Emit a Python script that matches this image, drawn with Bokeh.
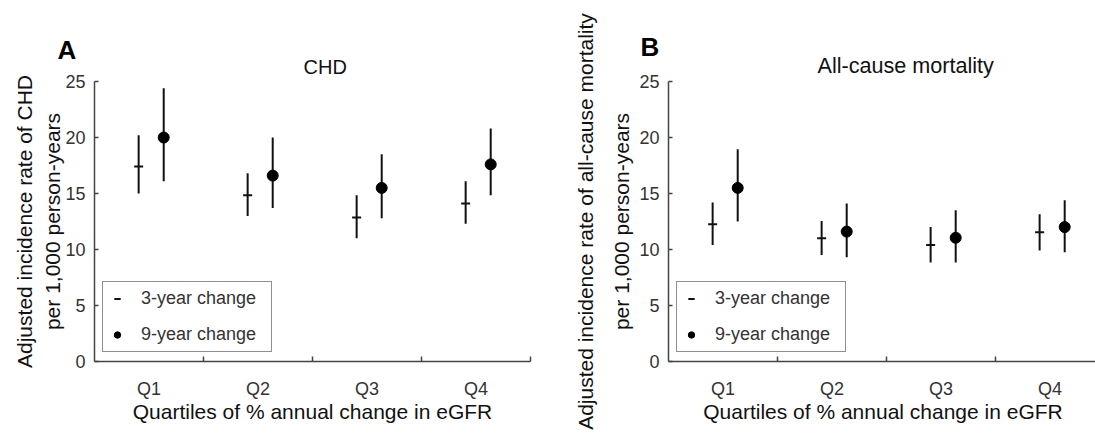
from bokeh.plotting import figure
from bokeh.models import Range1d, FixedTicker, Legend, LegendItem, Title
from bokeh.layouts import row
from bokeh.embed import file_html
from bokeh.resources import INLINE

# ---------------- data ----------------
quartiles = ["Q1", "Q2", "Q3", "Q4"]
y_ticks = [0, 5, 10, 15, 20, 25]

chd_3y = [17.4, 14.85, 12.85, 14.1]
chd_3y_lo = [15.0, 13.0, 11.0, 12.3]
chd_3y_hi = [20.2, 16.8, 14.85, 16.1]
chd_9y = [20.0, 16.6, 15.5, 17.6]
chd_9y_lo = [16.1, 13.7, 12.8, 14.85]
chd_9y_hi = [24.4, 20.0, 18.5, 20.8]

mort_3y = [12.25, 11.0, 10.4, 11.55]
mort_3y_lo = [10.4, 9.5, 8.85, 9.9]
mort_3y_hi = [14.2, 12.55, 12.0, 13.15]
mort_9y = [15.5, 11.6, 11.05, 12.0]
mort_9y_lo = [12.5, 9.3, 8.85, 9.75]
mort_9y_hi = [18.95, 14.1, 13.5, 14.4]

series_labels = ["3-year change", "9-year change"]
x_label = "Quartiles of % annual change in eGFR"

FONT = "Liberation Sans"
INK = "#111111"
AXIS = "#444444"


def set_standoff(obj, v, fallback=0):
    try:
        obj.standoff = v
    except Exception:
        obj.standoff = fallback


def make_panel(letter, title, ylabel, v3, lo3, hi3, v9, lo9, hi9,
               frame_w, b_right, x_end, letter_off, title_off, title_size,
               ylab_line_height, ylab_standoff):
    p = figure(frame_width=frame_w, frame_height=280, output_backend="svg",
               toolbar_location=None,
               x_range=Range1d(0, x_end), y_range=Range1d(0, 25),
               min_border_left=94, min_border_right=b_right,
               min_border_top=81, min_border_bottom=73)
    p.outline_line_color = None
    p.grid.visible = False
    p.background_fill_color = "white"
    p.border_fill_color = "white"

    centers = [i + 0.5 for i in range(len(quartiles))]
    x3 = [c - 0.095 for c in centers]
    x9 = [c + 0.135 for c in centers]

    p.segment(x0=x3, y0=lo3, x1=x3, y1=hi3, line_color=INK, line_width=2)
    r3 = p.scatter(x=x3, y=v3, marker="dash", size=9, line_color=INK, line_width=2)
    p.segment(x0=x9, y0=lo9, x1=x9, y1=hi9, line_color=INK, line_width=2)
    r9 = p.scatter(x=x9, y=v9, marker="circle", size=11, fill_color="#000000",
                   line_color="#000000")

    # axes
    for ax in (p.xaxis[0], p.yaxis[0]):
        ax.axis_line_color = AXIS
        ax.axis_line_width = 1.5
        ax.major_label_text_font = FONT
        ax.major_label_text_font_size = "18px"
        ax.major_label_text_color = "#333333"
        ax.axis_label_text_font = FONT
        ax.axis_label_text_font_size = "21px"
        ax.axis_label_text_font_style = "normal"
        ax.axis_label_text_color = INK

    xa = p.xaxis[0]
    xa.ticker = FixedTicker(ticks=centers, minor_ticks=[1, 2, 3, 4])
    xa.major_label_overrides = {c: q for c, q in zip(centers, quartiles)}
    xa.major_tick_line_color = None
    xa.major_tick_in = 0
    xa.major_tick_out = 0
    xa.minor_tick_line_color = AXIS
    xa.minor_tick_line_width = 1.5
    xa.minor_tick_in = 5
    xa.minor_tick_out = 0
    xa.major_label_standoff = 17
    xa.axis_label = x_label
    try:
        xa.axis_label_standoff = -2
    except Exception:
        xa.axis_label_standoff = 0

    ya = p.yaxis[0]
    ya.ticker = FixedTicker(ticks=y_ticks, minor_ticks=[])
    ya.major_tick_in = 4
    ya.major_tick_out = 0
    ya.major_tick_line_color = AXIS
    ya.major_tick_line_width = 1.5
    ya.minor_tick_line_color = None
    ya.major_label_standoff = 9
    ya.axis_label = ylabel
    ya.axis_label_text_line_height = ylab_line_height
    try:
        ya.axis_label_standoff = ylab_standoff
    except Exception:
        ya.axis_label_standoff = 0

    legend = Legend(items=[LegendItem(label=series_labels[0], renderers=[r3]),
                           LegendItem(label=series_labels[1], renderers=[r9])],
                    location=(8, 9))
    legend.border_line_color = "#222222"
    legend.border_line_width = 1.5
    legend.background_fill_color = "white"
    legend.background_fill_alpha = 1
    legend.label_text_font = FONT
    legend.label_text_font_size = "18px"
    legend.label_text_color = "#333333"
    legend.padding = 6
    legend.margin = 0
    legend.spacing = 15
    legend.glyph_width = 16
    legend.glyph_height = 17
    legend.label_height = 17
    legend.label_standoff = 16
    legend.label_width = 124
    p.add_layout(legend)

    # panel letter: the figure's own title (outermost row above the frame)
    p.title.text = letter
    p.title.align = "left"
    p.title.offset = letter_off
    p.title.text_font = FONT
    p.title.text_font_size = "26px"
    p.title.text_font_style = "bold"
    p.title.text_color = "#000000"
    set_standoff(p.title, -30)

    # panel heading, nearest the frame
    t = Title(text=title, align="left", offset=title_off, text_font=FONT,
              text_font_size=title_size, text_font_style="normal", text_color=INK)
    set_standoff(t, 8)
    p.add_layout(t, "above")
    return p


p1 = make_panel("A", "CHD", "Adjusted incidence rate of CHD\nper 1,000 person-years",
                chd_3y, chd_3y_lo, chd_3y_hi, chd_9y, chd_9y_lo, chd_9y_hi,
                frame_w=436, b_right=40, x_end=4, letter_off=-37, title_off=209,
                title_size="20px", ylab_line_height=1.24, ylab_standoff=-2)
p2 = make_panel("B", "All-cause mortality",
                "Adjusted incidence rate of all-cause mortality\nper 1,000 person-years",
                mort_3y, mort_3y_lo, mort_3y_hi, mort_9y, mort_9y_lo, mort_9y_hi,
                frame_w=429, b_right=0, x_end=3.936, letter_off=-28, title_off=149,
                title_size="21.6px", ylab_line_height=1.6, ylab_standoff=3)

layout = row(p1, p2)
open("out.html", "w").write(file_html(layout, INLINE))
